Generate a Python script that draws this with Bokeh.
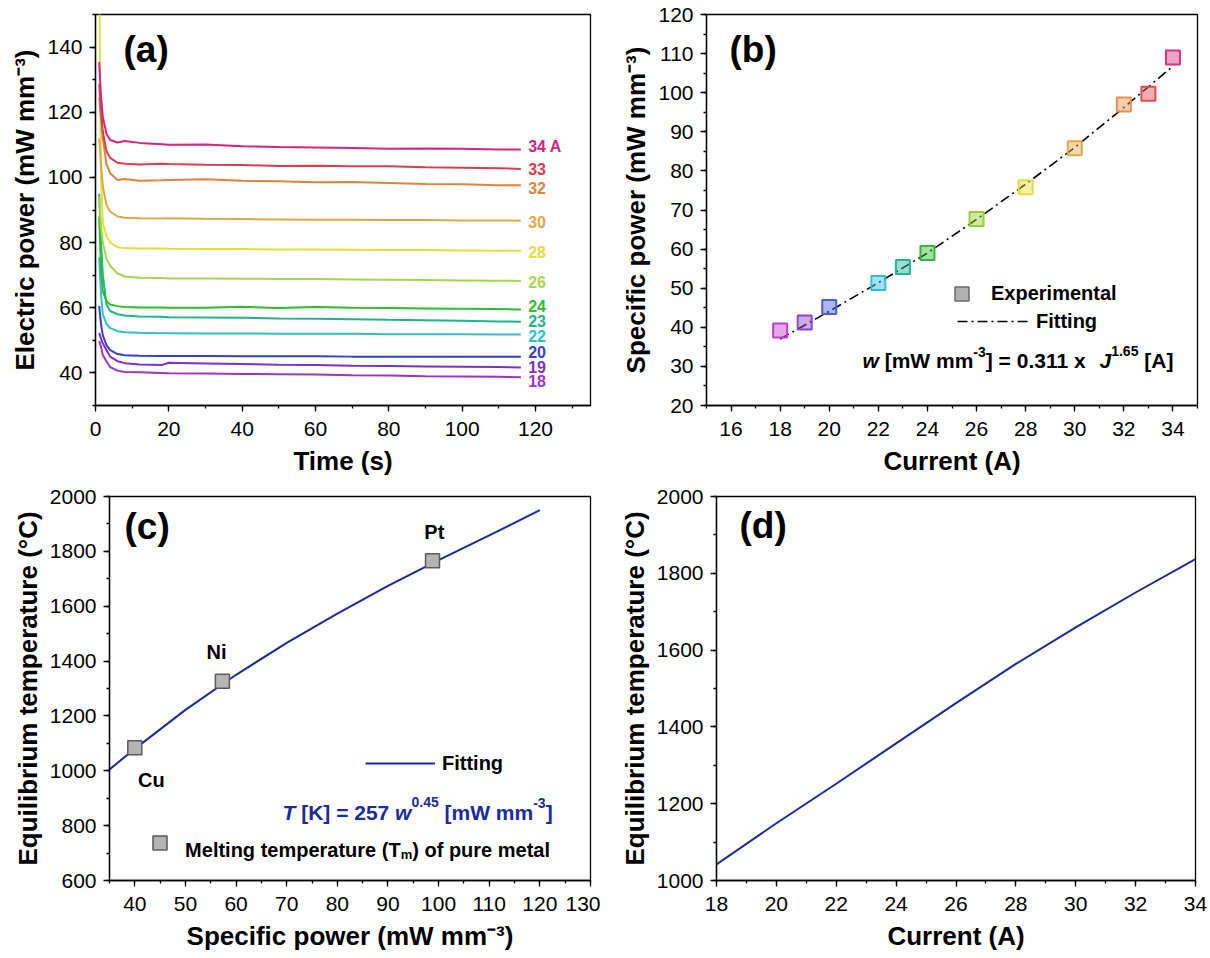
from bokeh.plotting import figure
from bokeh.models import Range1d, SingleIntervalTicker, Label, Legend, LegendItem, ColumnDataSource
from bokeh.layouts import row, column
from bokeh.embed import file_html
from bokeh.resources import INLINE
from bokeh.core.properties import value

FONT = "Liberation Sans"
SUP3 = "\u207b\u00b3"

# ---------------- data (a) ----------------
time_s = [1, 1.5, 2, 3, 4, 6, 8, 12, 18, 20, 30, 40, 50, 60, 70, 80, 90, 100, 110, 116]
currents_a = [18, 19, 20, 22, 23, 24, 26, 28, 30, 32, 33, 34]
labels_a = ["18", "19", "20", "22", "23", "24", "26", "28", "30", "32", "33", "34 A"]
colors_a = ["#A132C4", "#7B30CF", "#3342C7", "#2CC1C9", "#1EB58C", "#2DBE2D",
            "#A6D64B", "#E6DC3C", "#DDA947", "#E3823C", "#DE3D4F", "#D6247E"]
power_18 = [49.8, 48.0, 45.5, 43.5, 41.8, 40.7, 40.3, 40.2, 40.0, 39.9, 39.8, 39.7, 39.6, 39.5, 39.3, 39.2, 39.0, 38.9, 38.8, 38.7]
power_19 = [52.3, 50.5, 49.0, 47.0, 45.0, 43.6, 43.0, 42.6, 42.4, 43.1, 42.9, 42.7, 42.5, 42.4, 42.2, 42.1, 42.0, 41.9, 41.8, 41.7]
power_20 = [60.5, 55.0, 51.5, 48.5, 47.0, 45.8, 45.4, 45.3, 45.2, 45.2, 45.2, 45.1, 45.1, 45.1, 45.0, 45.0, 45.0, 45.0, 45.0, 45.0]
power_22 = [75.5, 64.0, 58.0, 55.0, 53.8, 52.8, 52.5, 52.3, 52.2, 52.2, 52.1, 52.1, 52.0, 52.0, 52.0, 51.9, 51.9, 51.9, 51.8, 51.8]
power_23 = [95.0, 80.0, 70.0, 61.0, 59.0, 58.0, 57.6, 57.3, 57.2, 57.1, 57.0, 56.9, 56.7, 56.6, 56.5, 56.3, 56.2, 56.0, 55.8, 55.7]
power_24 = [88.0, 72.0, 65.0, 62.0, 61.0, 60.5, 60.2, 60.1, 60.1, 60.0, 60.0, 60.3, 59.9, 60.2, 60.0, 59.9, 59.8, 59.7, 59.6, 59.5]
power_26 = [94.2, 85.0, 80.0, 75.0, 72.9, 70.5, 69.6, 69.2, 69.1, 69.0, 69.0, 68.9, 68.8, 68.8, 68.7, 68.6, 68.5, 68.4, 68.3, 68.2]
power_28 = [165.0, 100.0, 86.0, 82.0, 80.0, 78.6, 78.3, 78.2, 78.2, 78.1, 78.0, 78.0, 77.9, 77.9, 77.8, 77.7, 77.7, 77.6, 77.5, 77.5]
power_30 = [112.0, 104.0, 97.2, 91.5, 89.5, 88.0, 87.6, 87.5, 87.4, 87.5, 87.3, 87.2, 87.1, 87.0, 87.0, 86.9, 86.9, 86.8, 86.8, 86.7]
power_32 = [124.6, 118.0, 112.0, 104.0, 101.3, 99.2, 99.5, 99.0, 99.1, 99.2, 99.4, 99.0, 98.8, 98.5, 98.6, 98.3, 98.0, 97.9, 97.6, 97.6]
power_33 = [128.6, 121.0, 114.0, 108.0, 106.0, 104.5, 104.2, 104.0, 104.2, 104.1, 103.9, 103.8, 103.5, 103.6, 103.4, 103.4, 103.1, 103.0, 102.8, 102.6]
power_34 = [135.4, 125.0, 118.5, 113.4, 111.5, 110.7, 111.2, 110.6, 110.2, 110.0, 110.1, 109.6, 109.3, 109.2, 109.0, 108.8, 108.9, 108.8, 108.6, 108.6]
series_a = [power_18, power_19, power_20, power_22, power_23, power_24,
            power_26, power_28, power_30, power_32, power_33, power_34]

# ---------------- data (b) ----------------
current_b = [18, 19, 20, 22, 23, 24, 26, 28, 30, 32, 33, 34]
power_b = [39.2, 41.2, 45.2, 51.3, 55.4, 59.0, 67.7, 75.8, 85.8, 97.0, 99.7, 109.0]
colors_b = ["#C33DD1", "#8E44C9", "#4A5FD6", "#2BBFD9", "#22B39A", "#34B83A",
            "#9ACD32", "#E3DB3F", "#E0A94A", "#E8924A", "#E04A52", "#D6337F"]
fit_current_b = [18, 20, 22, 24, 26, 28, 30, 32, 34]
fit_power_b = [37.0, 44.1, 51.4, 59.0, 67.6, 76.6, 86.0, 96.2, 106.8]

# ---------------- data (c) ----------------
metals = ["Cu", "Ni", "Pt"]
metal_power = [40.0, 57.3, 98.8]
metal_temp = [1084, 1326, 1766]
fit_w_c = [35, 40, 50, 60, 70, 80, 90, 100, 110, 120]
fit_T_c = [1005, 1080, 1222, 1350, 1466, 1573, 1674, 1768, 1858, 1950]

# ---------------- data (d) ----------------
current_d = [18, 20, 22, 24, 26, 28, 30, 32, 34]
temp_d = [1042, 1149, 1252, 1357, 1462, 1564, 1659, 1750, 1837]

NAVY = "#1B2A9C"

# Arial/Liberation Sans Bold advance widths (per 1000 em) for text composition
BOLD_W = {' ': 278, '(': 333, ')': 333, '-': 333, '.': 278, '=': 584, '[': 333, ']': 333,
          'A': 722, 'J': 556, 'K': 722, 'M': 833, 'T': 611, 'W': 944, 'a': 556, 'e': 556,
          'f': 333, 'g': 611, 'i': 278, 'l': 278, 'm': 889, 'n': 611, 'o': 611, 'p': 611,
          'r': 389, 't': 333, 'u': 611, 'w': 778, 'x': 556}


def tw(s, size):
    return sum(BOLD_W.get(c, 556) for c in s) * size / 1000.0


def make_fig(w, h, lb, rb, tb, bb, xr, yr, xint, yint, xlabel, ylabel):
    p = figure(width=w, height=h, x_range=Range1d(*xr), y_range=Range1d(*yr),
               output_backend="svg", toolbar_location=None,
               min_border_left=lb, min_border_right=rb, min_border_top=tb, min_border_bottom=bb,
               background_fill_color="white", border_fill_color="white",
               outline_line_color="black", outline_line_width=1.3)
    p.xgrid.visible = False
    p.ygrid.visible = False
    p.xaxis.ticker = SingleIntervalTicker(interval=xint, num_minor_ticks=2)
    p.yaxis.ticker = SingleIntervalTicker(interval=yint, num_minor_ticks=2)
    for ax in (p.xaxis[0], p.yaxis[0]):
        ax.axis_line_width = 1.3
        ax.axis_line_color = "black"
        ax.major_tick_out = 6
        ax.major_tick_in = 0
        ax.minor_tick_out = 3
        ax.minor_tick_in = 0
        ax.major_tick_line_width = 1.3
        ax.minor_tick_line_width = 1.3
        ax.major_tick_line_color = "black"
        ax.minor_tick_line_color = "black"
        ax.major_label_text_font = FONT
        ax.major_label_text_font_size = "21px"
        ax.major_label_text_color = "black"
        ax.axis_label_text_font = FONT
        ax.axis_label_text_font_size = "26px"
        ax.axis_label_text_font_style = "bold"
        ax.axis_label_text_color = "black"
    p.xaxis.major_label_standoff = 10
    p.xaxis.axis_label_standoff = 7
    p.yaxis.major_label_standoff = 7
    p.yaxis.axis_label_standoff = 4
    p.xaxis.axis_label = xlabel
    p.yaxis.axis_label = ylabel
    return p


def conv(frame, xr, yr):
    l, r, t, b = frame
    def f(px, py):
        return (xr[0] + (px - l) / (r - l) * (xr[1] - xr[0]),
                yr[1] - (py - t) / (b - t) * (yr[1] - yr[0]))
    return f


def label(p, cv, px, py, text, size, style="bold", color="black", align="left", baseline="alphabetic"):
    x, y = cv(px, py)
    p.add_layout(Label(x=x, y=y, text=text, text_font=FONT, text_font_size=f"{size}px",
                       text_font_style=style, text_color=color, text_align=align,
                       text_baseline=baseline))


def rich(p, cv, px, py, pieces, color="black"):
    """pieces: (text, size, style, raise_px) placed one after another on a common baseline.
    Leading spaces are turned into cursor advance (SVG text drops them)."""
    cur = px
    for txt, size, style, dy in pieces:
        stripped = txt.lstrip(" ")
        cur += tw(txt[:len(txt) - len(stripped)], size)
        if stripped.strip():
            label(p, cv, cur, py - dy, stripped.rstrip(" "), size, style, color)
        cur += tw(stripped, size)


def legend(p, renderer, text, loc, gw, gh, standoff):
    leg = Legend(items=[LegendItem(label=value(text), renderers=[renderer])],
                 location=loc, orientation="vertical", glyph_width=int(gw), glyph_height=int(gh),
                 label_height=int(gh), label_width=10, label_standoff=int(round(standoff)),
                 padding=0, margin=0, spacing=0, border_line_color=None, background_fill_alpha=0,
                 label_text_font=FONT, label_text_font_size="20px",
                 label_text_font_style="bold", label_text_color="black")
    p.add_layout(leg)


# ---------------- panel (a) ----------------
XA, YA = (0, 135), (30, 150)
pa = make_fig(600, 478, 95, 10, 14, 70, XA, YA, 20, 20, "Time (s)", "Electric power (mW mm" + SUP3 + ")")
cva = conv((95, 590, 14, 408), XA, YA)
for vals, col in zip(series_a, colors_a):
    pa.line(time_s, vals, line_color=col, line_width=2)
label_y_a = [37.6, 41.7, 46.4, 51.4, 55.9, 60.5, 68.0, 77.0, 86.3, 96.7, 102.6, 109.6]
src_lab = ColumnDataSource(dict(x=[118.0] * len(labels_a), y=label_y_a, text=labels_a, color=colors_a))
pa.text(x="x", y="y", text="text", text_color="color", source=src_lab,
        text_font=value(FONT), text_font_size=value("16px"), text_font_style="bold",
        text_baseline="middle", text_align="left")
label(pa, cva, 123, 49, "(a)", 37, baseline="middle")

# ---------------- panel (b) ----------------
XB, YB = (15, 35), (20, 120)
pb = make_fig(609, 478, 106, 12, 14, 71, XB, YB, 2, 10, "Current (A)", "Specific power (mW mm" + SUP3 + ")")
cvb = conv((706, 1197, 14, 407), XB, YB)
fit_b = pb.line(fit_current_b, fit_power_b, line_color="black", line_width=1.6, line_dash="10 4 2 4")
pb.scatter(current_b, power_b, marker="square", size=14, line_color=colors_b, fill_color=colors_b,
           fill_alpha=0.45, line_width=2)
legend_swatch_b = pb.scatter([float("nan")], [float("nan")], marker="square", size=14,
                             fill_color="#B0B0B0", line_color="#6A6A6A", line_width=1.5)
legend(pb, legend_swatch_b, "Experimental", (238, 94), 35, 35, 12)
legend(pb, fit_b, "Fitting", (251, 72), 71, 24, 8)
rich(pb, cvb, 862, 362, [("w", 21, "bold italic", 0), (" [mW mm", 21, "bold", 0),
                         ("-3", 14, "bold", 9), ("] = 0.311 x", 21, "bold", 0)])
rich(pb, cvb, 1099, 362, [("J", 21, "bold italic", 0), ("1.65", 14, "bold", 10),
                          (" [A]", 21, "bold", 0)])
label(pb, cvb, 729, 49, "(b)", 37, baseline="middle")

# ---------------- panel (c) ----------------
XC, YC = (35, 130), (600, 2000)
pc = make_fig(600, 478, 109, 10, 18, 73, XC, YC, 10, 200, "Specific power (mW mm" + SUP3 + ")", "Equilibrium temperature (\u00b0C)")
cvc = conv((109, 590, 496, 883), XC, YC)
fit_c = pc.line(fit_w_c, fit_T_c, line_color=NAVY, line_width=2)
pts_c = pc.scatter(metal_power, metal_temp, marker="square", size=14, fill_color="#B4B4B4",
                   line_color="#5A5A5A", line_width=1.5)
for name, (px, py) in zip(metals, [(150.8, 781.7), (216, 652.7), (433.8, 531.7)]):
    label(pc, cvc, px, py, name, 20, align="center", baseline="middle")
legend(pc, fit_c, "Fitting", (256, 105), 70, 24, 7)
legend(pc, pts_c, " ", (33, 20), 35, 35, 7)
rich(pc, cvc, 184.6, 852.7, [("Melting temperature (T", 20, "bold", 0), ("m", 13, "bold", -4.5),
                             (") of pure metal", 20, "bold", 0)])
rich(pc, cvc, 282, 814, [("T", 21, "bold italic", 0), (" [K] = 257", 21, "bold", 0),
                         (" w", 21, "bold italic", 0), ("0.45", 14, "bold", 10),
                         (" [mW mm", 21, "bold", 0), ("-3", 14, "bold", 9),
                         ("]", 21, "bold", 0)], color=NAVY)
label(pc, cvc, 124, 526, "(c)", 37, baseline="middle")

# ---------------- panel (d) ----------------
XD, YD = (18, 34), (1000, 2000)
pd_ = make_fig(609, 478, 116, 14, 18, 76, XD, YD, 2, 200, "Current (A)", "Equilibrium temperature (\u00b0C)")
cvd = conv((716, 1195, 496, 880), XD, YD)
pd_.line(current_d, temp_d, line_color=NAVY, line_width=2)
label(pd_, cvd, 739, 525, "(d)", 37, baseline="middle")

layout = column(row(pa, pb, spacing=0), row(pc, pd_, spacing=0), spacing=0)
open("out.html", "w").write(file_html(layout, INLINE))
